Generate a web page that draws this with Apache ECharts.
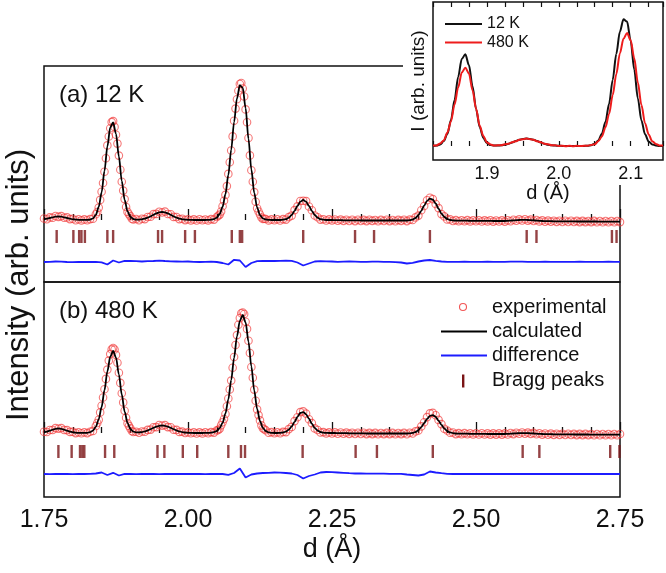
<!DOCTYPE html>
<html>
<head>
<meta charset="utf-8">
<script src="https://cdn.jsdelivr.net/npm/echarts@6/dist/echarts.min.js"></script>
<style>
  html, body { margin: 0; padding: 0; background: #fff; }
  #chart { width: 666px; height: 573px; }
</style>
</head>
<body>
<div id="chart"></div>
<script>
// d grid of the main patterns: 1.750 ... 2.750, every 0.005 A
const D_START = 1.75;
const D_STEP = 0.005;
// extra points between the grid nodes on the two big peaks
const MID1_START = 1.8425;
const MID2_START = 2.0525;
// difference curves are read every 0.01 A
const DIFF_STEP = 0.01;
// inset: 1.825 ... 2.145 every 0.005 A
const INSET_START = 1.825;

// (a) 12 K
const calc12K = [
  0.7, 1.3, 2.0, 2.7, 3.3, 3.5, 3.3, 2.7, 2.0, 1.3,
  0.7, 0.4, 0.2, 0.1, 0.1, 0.1, 0.4, 1.6, 5.2, 13.0,
  27.5, 49.0, 73.5, 92.5, 97.6, 86.1, 63.5, 39.1, 20.1, 8.7,
  3.1, 1.0, 0.4, 0.4, 0.7, 1.4, 2.4, 3.7, 5.2, 6.6,
  7.6, 8.0, 7.6, 6.6, 5.2, 3.7, 2.4, 1.4, 0.7, 0.4,
  0.2, 0.1, 0, 0, 0, 0, 0, 0.1, 0.3, 0.9,
  2.4, 6.0, 13.1, 25.8, 45.0, 70.3, 97.9, 121.6, 134.8, 132.3,
  111.9, 81.2, 50.6, 27.1, 12.4, 4.9, 1.7, 0.5, 0.1, 0,
  0, 0, 0, 0.3, 0.9, 2.3, 5.0, 9.2, 14.1, 18.3,
  20.0, 18.3, 14.1, 9.2, 5.0, 2.3, 0.9, 0.3, 0, 0,
  0, -0.1, -0.2, -0.2, -0.3, -0.3, -0.3, -0.4, -0.4, -0.4,
  -0.5, -0.5, -0.5, -0.5, -0.5, -0.5, -0.5, -0.5, -0.5, -0.5,
  -0.5, -0.5, -0.5, -0.5, -0.5, -0.5, -0.5, -0.2, 0.5, 2.0,
  4.9, 9.2, 14.4, 19.1, 21.4, 20.4, 16.5, 11.3, 6.4, 3.0,
  1.0, 0, -0.4, -0.6, -0.6, -0.7, -0.7, -0.7, -0.8, -0.8,
  -0.8, -0.8, -0.9, -0.9, -0.9, -0.9, -1.0, -1.0, -1.0, -1.0,
  -1.0, -0.8, -0.6, -0.4, -0.2, 0, 0.1, 0.1, 0, -0.2,
  -0.4, -0.6, -0.8, -1.0, -1.1, -1.2, -1.2, -1.3, -1.3, -1.3,
  -1.4, -1.4, -1.4, -1.4, -1.4, -1.5, -1.5, -1.5, -1.5, -1.5,
  -1.5, -1.5, -1.5, -1.6, -1.6, -1.6, -1.6, -1.6, -1.6, -1.6,
  -1.6
];
const obs12K = [
  1.5, 0.8, 2.6, 2.2, 4.0, 3.1, 3.9, 2.3, 2.6, 0.9,
  1.2, -0.2, 0.8, -0.4, 0.6, -0.3, 0.9, 1.2, 5.8, 12.4,
  28.3, 48.2, 74.6, 91.8, 98.9, 85.2, 64.4, 38.2, 20.9, 8.1,
  3.7, 0.5, 1.0, -0.2, 1.3, 0.9, 3.0, 3.2, 5.9, 6.1,
  8.3, 7.5, 8.4, 6.0, 5.8, 3.1, 3.0, 0.9, 1.3, -0.1,
  0.8, -0.4, 0.6, -0.5, 0.7, -0.3, 0.5, -0.4, 0.9, 0.4,
  3.0, 5.4, 13.8, 25.1, 46.1, 69.5, 99.2, 120.8, 136.0, 131.5,
  110.6, 82.0, 49.8, 27.9, 11.8, 5.5, 1.1, 1.0, -0.4, 0.6,
  -0.3, 0.8, -0.5, 0.9, 0.4, 2.9, 4.4, 9.9, 13.6, 19.0,
  19.2, 18.9, 13.5, 9.8, 4.5, 2.8, 0.4, 0.8, -0.5, 0.6,
  -0.4, 0.5, -0.8, 0.4, -0.9, 0.3, -1.0, 0.2, -1.1, 0.3,
  -1.0, 0.1, -1.1, 0.2, -0.9, 0.0, -1.2, 0.1, -1.0, 0.2,
  -1.1, 0.0, -1.2, 0.1, -0.9, 0.2, -1.1, 0.4, 0.0, 2.6,
  4.4, 9.8, 14.0, 19.8, 22.3, 20.9, 16.0, 11.9, 5.9, 3.6,
  0.5, 0.6, -1.0, -0.1, -1.2, -0.2, -1.3, -0.1, -1.4, -0.3,
  -1.3, -0.2, -1.5, -0.4, -1.4, -0.3, -1.6, -0.5, -1.5, -0.4,
  -1.6, -0.2, -1.2, 0.2, -0.8, 0.6, -0.5, 0.7, -0.6, 0.4,
  -1.0, 0.0, -1.4, -0.4, -1.7, -0.6, -1.8, -0.7, -1.9, -0.7,
  -2.0, -0.8, -2.0, -0.8, -2.0, -0.9, -2.1, -0.9, -2.1, -1.0,
  -2.1, -0.9, -2.2, -1.0, -2.2, -1.0, -2.2, -1.0, -2.2, -1.0,
  -2.1
];
const obsMid12K_1 = [8.0, 20.1, 37.0, 61.8, 83.5, 97.9, 93.1, 76.4, 50.2, 29.4, 13.0, 5.8, 1.3];
const obsMid12K_2 = [4.3, 8.5, 19.2, 33.9, 57.8, 83.6, 111.4, 129.2, 137.0, 123.5, 97.8, 64.6, 38.3, 18.2, 8.5, 2.5, 1.2];
const diff12K = [
  0, 0.2, 0.5, 0.3, 0, -0.2, 0, 0.2, 0, 0.1,
  -0.3, -2.5, 1.5, -0.5, 1.2, 1.0, 0.8, 0.5, 0.8, 1.0,
  1.4, 1.0, 0.7, 0.5, 0.3, 0.5, 0.2, 0, 0.2, 0.4,
  0, -1.0, -2.5, 2.2, 1.5, -5.0, -1.0, 0.8, 1.0, 1.2,
  1.0, 1.2, 1.4, 1.2, -0.5, -3.5, -1.5, 0.5, 0.8, 0.7,
  0.5, 0.2, 0.4, 0.5, 0.4, 0.2, 0.2, 0.4, 0.3, 0.2,
  0.1, -0.2, -0.5, -1.5, -0.8, 0.5, 1.5, 2.0, 1.2, 0.5,
  0.2, 0.1, 0.2, 0.3, 0.2, 0.1, 0.2, 0.3, 0.2, 0.1,
  0.2, 0.3, 0.4, 0.3, 0.2, 0.1, 0.2, 0.3, 0.2, 0.1,
  0.2, 0.1, 0.2, 0.3, 0.2, 0.2, 0.1, 0.2, 0.3, 0.2,
  0.2
];
const bragg12K = [1.772, 1.801, 1.811, 1.815, 1.821, 1.860, 1.870, 1.948, 1.955, 1.995, 2.012,
  2.076, 2.090, 2.094, 2.200, 2.290, 2.323, 2.420, 2.588, 2.605, 2.736, 2.744];

// (b) 480 K
const calc480K = [
  0.7, 1.4, 2.3, 3.3, 4.2, 4.5, 4.2, 3.3, 2.3, 1.4,
  0.7, 0.3, 0.1, 0.1, 0.1, 0.2, 0.8, 2.4, 6.2, 13.6,
  26.0, 42.9, 61.5, 76.3, 82.0, 75.4, 58.6, 38.5, 21.4, 10.1,
  4.0, 1.4, 0.6, 0.6, 0.9, 1.6, 2.5, 3.8, 5.1, 6.3,
  7.2, 7.5, 7.2, 6.3, 5.1, 3.8, 2.5, 1.6, 0.9, 0.5,
  0.2, 0.1, 0, 0, 0, 0, 0.1, 0.1, 0.3, 0.8,
  2.0, 4.8, 10.1, 19.4, 33.7, 52.9, 75.2, 96.6, 112.2, 118.0,
  110.7, 91.4, 66.5, 42.5, 24.0, 11.9, 5.2, 2.0, 0.7, 0.2,
  0, 0, 0.2, 0.5, 1.4, 3.3, 6.6, 11.2, 16.2, 20.0,
  20.9, 18.7, 14.3, 9.3, 5.1, 2.4, 1.0, 0.3, 0.1, 0,
  0, 0, -0.1, -0.1, -0.2, -0.2, -0.3, -0.3, -0.3, -0.4,
  -0.4, -0.4, -0.5, -0.5, -0.5, -0.5, -0.5, -0.5, -0.5, -0.5,
  -0.5, -0.5, -0.5, -0.5, -0.5, -0.5, -0.5, -0.3, 0.1, 1.0,
  2.9, 5.9, 9.9, 14.1, 17.1, 17.9, 16.1, 12.4, 8.2, 4.5,
  2.0, 0.6, -0.1, -0.5, -0.6, -0.6, -0.7, -0.7, -0.8, -0.8,
  -0.8, -0.9, -0.9, -0.9, -1.0, -1.0, -1.0, -1.0, -1.0, -1.0,
  -1.0, -0.9, -0.7, -0.5, -0.3, -0.2, -0.1, -0.1, -0.2, -0.3,
  -0.5, -0.7, -0.9, -1.0, -1.1, -1.2, -1.2, -1.3, -1.3, -1.3,
  -1.4, -1.4, -1.4, -1.4, -1.5, -1.5, -1.5, -1.5, -1.5, -1.5,
  -1.6, -1.6, -1.6, -1.6, -1.6, -1.6, -1.6, -1.6, -1.6, -1.6,
  -1.6
];
const obs480K = [
  1.3, 1.0, 3.0, 3.0, 4.9, 4.2, 4.9, 3.0, 2.9, 1.1,
  1.3, -0.1, 0.7, -0.3, 0.7, -0.1, 1.3, 2.1, 7.0, 13.2,
  27.2, 43.8, 63.4, 78.9, 85.0, 78.1, 60.2, 39.8, 22.2, 9.7,
  4.6, 1.0, 1.2, 0.2, 1.5, 1.2, 3.1, 3.4, 5.8, 5.9,
  8.0, 7.2, 7.9, 5.9, 5.7, 3.3, 3.1, 1.1, 1.4, 0.0,
  0.8, -0.3, 0.6, -0.5, 0.6, -0.4, 0.7, -0.3, 0.9, 0.4,
  2.6, 4.3, 10.8, 19.0, 34.5, 52.4, 76.0, 97.9, 115.0, 120.5,
  111.2, 92.3, 66.0, 43.4, 23.6, 12.6, 4.8, 2.7, 0.3, 0.9,
  -0.3, 0.7, -0.2, 1.1, 0.9, 3.9, 6.1, 11.9, 15.8, 20.9,
  21.6, 19.4, 13.8, 9.9, 4.6, 3.0, 0.5, 0.9, -0.4, 0.6,
  -0.5, 0.6, -0.7, 0.5, -0.8, 0.4, -0.9, 0.3, -1.0, 0.2,
  -1.0, 0.2, -1.1, 0.1, -1.1, 0.1, -1.2, 0.0, -1.1, 0.1,
  -1.1, 0.1, -1.2, 0.0, -1.1, 0.1, -1.2, 0.3, -0.5, 1.6,
  2.5, 6.6, 10.8, 15.9, 19.6, 20.1, 17.8, 13.1, 8.9, 4.2,
  2.5, 0.2, 0.5, -1.1, -0.1, -1.2, -0.1, -1.3, -0.2, -1.4,
  -0.3, -1.5, -0.3, -1.5, -0.4, -1.6, -0.4, -1.6, -0.4, -1.6,
  -0.4, -1.5, 0.0, -1.1, 0.3, -0.8, 0.5, -0.7, 0.4, -0.9,
  0.1, -1.3, -0.3, -1.6, -0.5, -1.8, -0.6, -1.9, -0.7, -1.9,
  -0.8, -2.0, -0.8, -2.0, -0.9, -2.1, -0.9, -2.1, -0.9, -2.1,
  -1.0, -2.2, -1.0, -2.2, -1.0, -2.2, -1.0, -2.2, -1.0, -2.2,
  -1.0
];
const obsMid480K_1 = [10.0, 20.6, 35.5, 54.1, 72.4, 83.6, 83.5, 70.2, 50.1, 30.6, 15.2, 7.1, 2.0];
const obsMid480K_2 = [3.0, 7.8, 14.0, 26.8, 43.5, 65.2, 88.0, 108.2, 119.8, 119.0, 104.1, 80.0, 55.2, 32.3, 17.9, 7.6, 3.8];
const diff480K = [
  0, -0.2, 0, 0.2, 0, -0.2, 0, 0, 0.2, 0.5,
  1.5, -1.0, 1.2, -1.5, 0.2, 0, -0.2, 0, 0.2, 0,
  -0.2, 0, 0.2, 0, 0, 0.2, 0, 0, -0.2, 0,
  0.2, 0, -0.8, 1.0, 5.5, -3.5, -0.5, 0.5, 1.0, 1.2,
  1.5, 1.4, 1.0, 0.5, -1.0, -4.5, -2.0, -0.5, 1.5, 2.0,
  1.8, 1.5, 1.2, 0.8, 0.5, 0.5, 0.4, 0.4, 0.3, 0.3,
  0.2, 0.2, 0.2, -0.5, -1.0, -1.5, -0.5, 2.5, 1.5, 0.8,
  0.2, 0, 0.2, 0, 0.1, 0, 0.2, 0, 0.1, 0,
  0.1, 0, 0.2, 0, 0, 0.1, 0, 0.2, 0, 0.1,
  0, 0.1, 0, 0.2, 0, 0.1, 0, 0, 0.1, 0,
  0
];
const bragg480K = [1.775, 1.798, 1.8125, 1.8165, 1.820, 1.856, 1.872, 1.947, 1.959, 1.991, 2.016,
  2.070, 2.092, 2.099, 2.199, 2.291, 2.328, 2.425, 2.581, 2.610, 2.733, 2.749];

// inset, normalised patterns
const inset12K = [
  0.1, 0.4, 1.5, 4.9, 12.2, 25.9, 46.1, 69.1, 87.0, 91.7,
  80.9, 59.7, 36.8, 18.9, 8.2, 2.9, 0.9, 0.4, 0.4, 0.7,
  1.3, 2.3, 3.5, 4.9, 6.2, 7.1, 7.5, 7.1, 6.2, 4.9,
  3.5, 2.3, 1.3, 0.7, 0.4, 0.2, 0.1, 0, 0, 0,
  0, 0, 0.1, 0.3, 0.8, 2.3, 5.6, 12.3, 24.3, 42.3,
  66.1, 92.0, 114.3, 126.7, 124.4, 105.2, 76.3, 47.6, 25.5, 11.7,
  4.6, 1.6, 0.5, 0.1, 0
];
const inset480K = [
  0.5, 0.6, 2.6, 5.6, 13.4, 24.6, 41.5, 58.5, 73.4, 78.3,
  72.6, 55.8, 37.1, 20.2, 10.0, 3.6, 1.6, 0.4, 0.8, 0.7,
  1.7, 2.2, 3.8, 4.7, 6.2, 6.7, 7.4, 6.8, 6.2, 4.7,
  3.8, 2.2, 1.7, 0.7, 0.7, 0.0, 0.3, -0.2, 0.2, -0.2,
  0.2, -0.1, 0.3, 0.2, 1.0, 1.7, 4.8, 9.5, 18.8, 32.1,
  50.8, 71.8, 92.6, 107.2, 113.1, 105.7, 87.7, 63.4, 40.9, 22.8,
  11.6, 4.8, 2.1, 0.5, 0.4
];

// where the difference curve and the Bragg ticks sit under each pattern
const DIFF_OFFSET_A = -42;
const DIFF_OFFSET_B = -41;
const BRAGG_Y_A = -16.5;
const BRAGG_Y_B = -18.5;

const FONT = "'Liberation Sans', Arial, sans-serif";
const OBS_COLOR = 'rgba(240, 55, 55, 0.85)';
const BRAGG_COLOR = '#7a1416';
const DIFF_COLOR = '#1c1cff';

function pairs(start, step, values, offset) {
  const off = offset || 0;
  return values.map((v, i) => [+(start + i * step).toFixed(4), v + off]);
}

function mainXAxis(gridIndex, withLabels) {
  return {
    gridIndex: gridIndex,
    type: 'value',
    min: 1.75,
    max: 2.75,
    interval: 0.25,
    axisLine: { show: false },
    axisTick: { show: true, inside: true, length: 11, lineStyle: { color: '#111', width: 1.3 } },
    minorTick: { show: true, splitNumber: 5, length: 6, lineStyle: { color: '#111', width: 1.3 } },
    splitLine: { show: false },
    minorSplitLine: { show: false },
    axisLabel: {
      show: withLabels,
      margin: 11,
      fontSize: 25,
      fontFamily: FONT,
      color: '#111',
      formatter: (v) => v.toFixed(2)
    },
    name: withLabels ? 'd (Å)' : '',
    nameLocation: 'middle',
    nameGap: 39,
    nameTextStyle: { fontSize: 27, fontFamily: FONT, color: '#111' }
  };
}

function patternSeries(idx, obs, mid1, mid2, calc, diff, diffOffset, bragg, braggY) {
  const obsData = pairs(D_START, D_STEP, obs)
    .concat(pairs(MID1_START, D_STEP, mid1))
    .concat(pairs(MID2_START, D_STEP, mid2));
  return [
    {
      type: 'scatter', xAxisIndex: idx, yAxisIndex: idx,
      data: obsData, symbol: 'circle', symbolSize: 7.5,
      itemStyle: { color: 'rgba(0,0,0,0)', borderColor: OBS_COLOR, borderWidth: 1.1 },
      silent: true, z: 2
    },
    {
      type: 'line', xAxisIndex: idx, yAxisIndex: idx,
      data: pairs(D_START, D_STEP, calc), symbol: 'none', showSymbol: false,
      smooth: 0.3, smoothMonotone: 'x',
      lineStyle: { color: '#000', width: 1.8 }, silent: true, z: 3
    },
    {
      type: 'line', xAxisIndex: idx, yAxisIndex: idx,
      data: pairs(D_START, DIFF_STEP, diff, diffOffset), symbol: 'none', showSymbol: false,
      lineStyle: { color: DIFF_COLOR, width: 1.8 }, silent: true, z: 3
    },
    {
      type: 'scatter', xAxisIndex: idx, yAxisIndex: idx,
      data: bragg.map((d) => [d, braggY]), symbol: 'rect', symbolSize: [2.4, 13],
      itemStyle: { color: BRAGG_COLOR }, silent: true, z: 3
    }
  ];
}

const chart = echarts.init(document.getElementById('chart'), null, { renderer: 'canvas' });

const insetTick = { show: true, inside: true, length: 5, lineStyle: { color: '#111', width: 1.2 } };

const option = {
  animation: false,
  backgroundColor: '#fff',
  grid: [
    { left: 44, top: 66, width: 576, height: 216, show: true, borderColor: '#111', borderWidth: 1.5, backgroundColor: 'rgba(0,0,0,0)' },
    { left: 44, top: 282, width: 576, height: 215, show: true, borderColor: '#111', borderWidth: 1.5, backgroundColor: 'rgba(0,0,0,0)' },
    { left: 433, top: 2, width: 230, height: 158, show: true, borderColor: '#111', borderWidth: 1.5, backgroundColor: '#fff', zlevel: 1, z: 2 }
  ],
  xAxis: [
    mainXAxis(0, false),
    mainXAxis(1, true),
    {
      gridIndex: 2, type: 'value', position: 'bottom', min: INSET_START, max: 2.145, interval: 0.025,
      zlevel: 1, z: 3,
      axisLine: { show: false }, axisTick: insetTick, splitLine: { show: false },
      axisLabel: {
        margin: 5, fontSize: 18, fontFamily: FONT, color: '#111',
        formatter: (v) => {
          const t = Math.round(v * 10) / 10;
          return Math.abs(v - t) < 1e-6 ? t.toFixed(1) : '';
        }
      },
      name: 'd (Å)', nameLocation: 'middle', nameGap: 22,
      nameTextStyle: { fontSize: 20, fontFamily: FONT, color: '#111' }
    },
    {
      gridIndex: 2, type: 'value', position: 'top', min: INSET_START, max: 2.145, interval: 0.025,
      zlevel: 1, z: 3,
      axisLine: { show: false }, axisTick: insetTick, splitLine: { show: false },
      axisLabel: { show: false }
    }
  ],
  yAxis: [
    { gridIndex: 0, type: 'value', min: -62, max: 154, show: false },
    { gridIndex: 1, type: 'value', min: -64, max: 151, show: false },
    {
      gridIndex: 2, type: 'value', min: -14, max: 144, zlevel: 1, z: 3,
      axisLine: { show: false }, axisTick: { show: false }, axisLabel: { show: false },
      splitLine: { show: false },
      name: 'I (arb. units)', nameLocation: 'middle', nameGap: 5,
      nameTextStyle: { fontSize: 19, fontFamily: FONT, color: '#111' }
    }
  ],
  series: [
    ...patternSeries(0, obs12K, obsMid12K_1, obsMid12K_2, calc12K, diff12K, DIFF_OFFSET_A, bragg12K, BRAGG_Y_A),
    ...patternSeries(1, obs480K, obsMid480K_1, obsMid480K_2, calc480K, diff480K, DIFF_OFFSET_B, bragg480K, BRAGG_Y_B),
    {
      type: 'line', xAxisIndex: 2, yAxisIndex: 2, zlevel: 1, z: 4,
      data: pairs(INSET_START, D_STEP, inset12K), symbol: 'none', showSymbol: false,
      smooth: 0.3, smoothMonotone: 'x',
      lineStyle: { color: '#111', width: 2 }, silent: true
    },
    {
      type: 'line', xAxisIndex: 2, yAxisIndex: 2, zlevel: 1, z: 5,
      data: pairs(INSET_START, D_STEP, inset480K), symbol: 'none', showSymbol: false,
      smooth: 0.3, smoothMonotone: 'x',
      lineStyle: { color: '#ee1c1c', width: 2 }, silent: true
    }
  ],
  graphic: [
    // white patch behind the inset
    { type: 'rect', zlevel: 1, z: 1, silent: true, shape: { x: 403, y: 0, width: 263, height: 185 }, style: { fill: '#fff' } },
    // inset legend
    { type: 'line', zlevel: 1, z: 10, shape: { x1: 445, y1: 24, x2: 482, y2: 24 }, style: { stroke: '#111', lineWidth: 2 } },
    { type: 'text', zlevel: 1, z: 10, x: 487, y: 24, style: { text: '12 K', font: '16px ' + FONT, fill: '#111', verticalAlign: 'middle' } },
    { type: 'line', zlevel: 1, z: 10, shape: { x1: 445, y1: 42.5, x2: 482, y2: 42.5 }, style: { stroke: '#ee1c1c', lineWidth: 2 } },
    { type: 'text', zlevel: 1, z: 10, x: 487, y: 42.5, style: { text: '480 K', font: '16px ' + FONT, fill: '#111', verticalAlign: 'middle' } },
    // panel labels
    { type: 'text', z: 10, x: 59, y: 95, style: { text: '(a) 12 K', font: '24px ' + FONT, fill: '#111', verticalAlign: 'middle' } },
    { type: 'text', z: 10, x: 59, y: 311, style: { text: '(b) 480 K', font: '24px ' + FONT, fill: '#111', verticalAlign: 'middle' } },
    // common y title
    { type: 'text', z: 10, x: 19, y: 285, rotation: Math.PI / 2, style: { text: 'Intensity (arb. units)', font: '31px ' + FONT, fill: '#111', align: 'center', verticalAlign: 'middle' } },
    // main legend
    { type: 'circle', z: 10, shape: { cx: 463, cy: 307, r: 3.5 }, style: { fill: 'none', stroke: OBS_COLOR, lineWidth: 1.1 } },
    { type: 'text', z: 10, x: 492, y: 307, style: { text: 'experimental', font: '20px ' + FONT, fill: '#111', verticalAlign: 'middle' } },
    { type: 'line', z: 10, shape: { x1: 441, y1: 331.5, x2: 487, y2: 331.5 }, style: { stroke: '#000', lineWidth: 1.8 } },
    { type: 'text', z: 10, x: 492, y: 331.5, style: { text: 'calculated', font: '20px ' + FONT, fill: '#111', verticalAlign: 'middle' } },
    { type: 'line', z: 10, shape: { x1: 441, y1: 355.5, x2: 487, y2: 355.5 }, style: { stroke: DIFF_COLOR, lineWidth: 1.8 } },
    { type: 'text', z: 10, x: 492, y: 355.5, style: { text: 'difference', font: '20px ' + FONT, fill: '#111', verticalAlign: 'middle' } },
    { type: 'rect', z: 10, shape: { x: 462, y: 374.5, width: 2.4, height: 13 }, style: { fill: BRAGG_COLOR } },
    { type: 'text', z: 10, x: 492, y: 380, style: { text: 'Bragg peaks', font: '20px ' + FONT, fill: '#111', verticalAlign: 'middle' } }
  ]
};

chart.setOption(option);
</script>
</body>
</html>
